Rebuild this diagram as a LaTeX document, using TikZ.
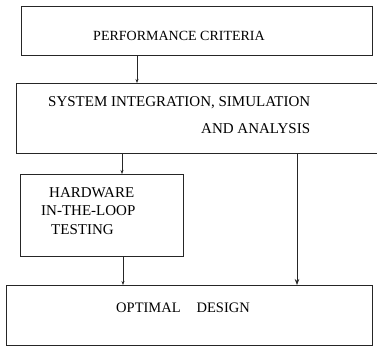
\documentclass[tikz,border=0pt]{standalone}
\usepackage{fontspec}
\setmainfont{Liberation Serif}
\usetikzlibrary{arrows.meta}
\begin{document}
\begin{tikzpicture}[x=1pt,y=-1pt,
  boxline/.style={draw=black!85,line width=0.7pt},
  lbl/.style={font=\fontsize{14.5}{16}\selectfont,inner sep=0pt,text=black},
  lblb/.style={font=\fontsize{15}{17}\selectfont,inner sep=0pt,text=black},
  arr/.style={draw=black!85,line width=0.7pt,-{Stealth[length=6pt,width=4.5pt]}},
  arrs/.style={draw=black!85,line width=0.7pt,-{Stealth[length=4pt,width=3pt]}}]
\useasboundingbox (0,0) rectangle (377,350);
% boxes
\node[boxline,rectangle,minimum width=351pt,minimum height=49pt,anchor=north west,inner sep=0pt] (b1) at (21,6) {};
\node[boxline,rectangle,minimum width=362pt,minimum height=70pt,anchor=north west,inner sep=0pt] (b2) at (16,83) {};
\node[boxline,rectangle,minimum width=163pt,minimum height=82pt,anchor=north west,inner sep=0pt] (b3) at (20,174) {};
\node[boxline,rectangle,minimum width=366pt,minimum height=60pt,anchor=north west,inner sep=0pt] (b4) at (6,285) {};
% texts
\node[lbl,font=\fontsize{14}{16}\selectfont] (t1) at (179,36) {PERFORMANCE CRITERIA};
\node[lblb,anchor=west] (t2a) at (48,103) {SYSTEM INTEGRATION, SIMULATION};
\node[lblb,anchor=west] (t2b) at (201,129) {AND ANALYSIS};
\node[lblb,anchor=west] (t3a) at (49,193) {HARDWARE};
\node[lblb,anchor=west] (t3b) at (41,211) {IN-THE-LOOP};
\node[lblb,anchor=west] (t3c) at (51,230) {TESTING};
\node[lbl] (t4) at (183,308) {OPTIMAL\hspace{1.1em}DESIGN};
% arrows
\draw[arrs] (b1.south -| 137,0) -- (b2.north -| 137,0);
\draw[arrs] (b2.south -| 122,0) -- (b3.north -| 122,0);
\draw[arrs] (b3.south -| 123,0) -- (b4.north -| 123,0);
\draw[arr] (b2.south -| 297,0) -- (b4.north -| 297,0);
\end{tikzpicture}
\end{document}
